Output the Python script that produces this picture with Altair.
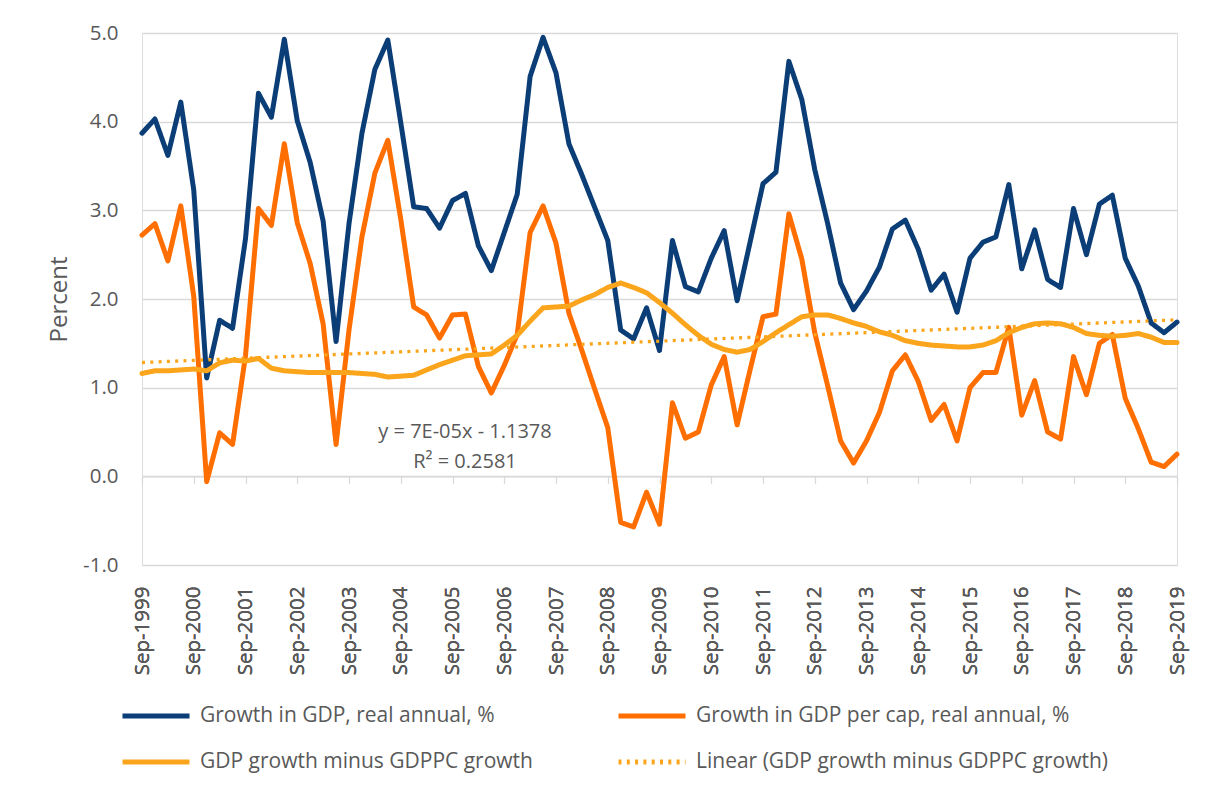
import json
import altair as alt
import pandas as pd

# ---- data (quarterly, Sep-1999 .. Sep-2019) ----
gdp = [3.87, 4.03, 3.62, 4.22, 3.23, 1.11, 1.76, 1.67, 2.68, 4.32,
       4.05, 4.93, 4.01, 3.54, 2.88, 1.52, 2.85, 3.87, 4.59, 4.92,
       3.99, 3.04, 3.02, 2.80, 3.11, 3.19, 2.60, 2.32, 2.75, 3.18,
       4.51, 4.95, 4.55, 3.75, 3.40, 3.03, 2.66, 1.65, 1.55, 1.90,
       1.42, 2.66, 2.14, 2.08, 2.46, 2.77, 1.98, 2.64, 3.30, 3.43,
       4.68, 4.25, 3.46, 2.85, 2.18, 1.88, 2.09, 2.36, 2.79, 2.89,
       2.56, 2.10, 2.28, 1.85, 2.46, 2.64, 2.70, 3.29, 2.34, 2.78,
       2.22, 2.13, 3.02, 2.50, 3.07, 3.17, 2.46, 2.15, 1.73, 1.62,
       1.74]
gdppc = [2.72, 2.85, 2.43, 3.05, 2.03, -0.06, 0.49, 0.36, 1.36, 3.02,
         2.83, 3.75, 2.86, 2.40, 1.72, 0.36, 1.65, 2.70, 3.42, 3.79,
         2.90, 1.91, 1.82, 1.56, 1.82, 1.83, 1.24, 0.94, 1.25, 1.60,
         2.75, 3.05, 2.63, 1.84, 1.42, 0.98, 0.55, -0.52, -0.57, -0.18,
         -0.54, 0.83, 0.43, 0.50, 1.03, 1.35, 0.58, 1.20, 1.80, 1.83,
         2.96, 2.45, 1.62, 1.02, 0.40, 0.15, 0.40, 0.72, 1.19, 1.37,
         1.07, 0.63, 0.81, 0.40, 1.00, 1.17, 1.17, 1.68, 0.69, 1.08,
         0.50, 0.42, 1.35, 0.92, 1.50, 1.60, 0.88, 0.54, 0.16, 0.11,
         0.25]
diff = [1.16, 1.19, 1.19, 1.20, 1.21, 1.19, 1.28, 1.31, 1.30, 1.33,
        1.22, 1.19, 1.18, 1.17, 1.17, 1.17, 1.17, 1.16, 1.15, 1.12,
        1.13, 1.14, 1.20, 1.26, 1.31, 1.36, 1.37, 1.38, 1.48, 1.59,
        1.75, 1.90, 1.91, 1.92, 1.99, 2.05, 2.13, 2.18, 2.13, 2.07,
        1.96, 1.84, 1.71, 1.59, 1.49, 1.43, 1.40, 1.43, 1.52, 1.62,
        1.71, 1.80, 1.82, 1.82, 1.78, 1.73, 1.69, 1.63, 1.59, 1.53,
        1.50, 1.48, 1.47, 1.46, 1.46, 1.48, 1.53, 1.62, 1.68, 1.72,
        1.73, 1.72, 1.68, 1.61, 1.59, 1.58, 1.59, 1.61, 1.57, 1.51,
        1.51]
tick_labels = ["Sep-1999", "Sep-2000", "Sep-2001", "Sep-2002", "Sep-2003",
               "Sep-2004", "Sep-2005", "Sep-2006", "Sep-2007", "Sep-2008",
               "Sep-2009", "Sep-2010", "Sep-2011", "Sep-2012", "Sep-2013",
               "Sep-2014", "Sep-2015", "Sep-2016", "Sep-2017", "Sep-2018",
               "Sep-2019"]
series_names = ["Growth in GDP, real annual, %",
                "Growth in GDP per cap, real annual, %",
                "GDP growth minus GDPPC growth",
                "Linear (GDP growth minus GDPPC growth)"]
colors = ["#0b3d76", "#ff6e00", "#fba51c", "#fba51c"]
dashes = [[1, 0], [1, 0], [1, 0], [3, 5.3]]
equation_lines = ["y = 7E-05x - 1.1378", "R² = 0.2581"]

rows = []
for i in range(len(gdp)):
    rows.append({"q": i, "series": series_names[0], "value": gdp[i]})
    rows.append({"q": i, "series": series_names[1], "value": gdppc[i]})
    rows.append({"q": i, "series": series_names[2], "value": diff[i]})
df = pd.DataFrame(rows)

FONT = "Open Sans"
TXT = "#595959"
GRID = "#d9d9d9"
tick_vals = [4 * k for k in range(len(tick_labels))]
label_expr = json.dumps(tick_labels) + "[round(datum.value/4)]"

legend = alt.Legend(
    title=None, orient="none", legendX=-22, legendY=647, columns=2,
    direction="horizontal",
    symbolType="stroke", symbolSize=4489, symbolStrokeWidth=5,
    labelFont=FONT, labelFontSize=21, labelColor=TXT, labelLimit=700,
    labelOffset=8, columnPadding=75, rowPadding=-6, padding=0,
)
color_enc = alt.Color("series:N", scale=alt.Scale(domain=series_names, range=colors), legend=legend)
dash_enc = alt.StrokeDash("series:N", scale=alt.Scale(domain=series_names, range=dashes), legend=legend)

y_enc = alt.Y(
    "value:Q",
    scale=alt.Scale(domain=[-1, 5], nice=False, zero=False),
    axis=alt.Axis(
        values=[-1, 0, 1, 2, 3, 4, 5], format=".1f", title="Percent",
        labelExpr="replace(datum.label, '\u2212', '-')",
        labelFont=FONT, labelFontSize=20.5, labelColor=TXT, labelPadding=24,
        ticks=False, tickSize=0, domain=False, grid=True, gridColor=GRID, gridWidth=1.3,
        titleFont=FONT, titleFontSize=24, titleFontWeight="normal", titleColor=TXT,
        titlePadding=11,
    ),
)
x_scale = alt.Scale(domain=[0, 80], nice=False, zero=False)
x_main = alt.X(
    "q:Q", scale=x_scale,
    axis=alt.Axis(
        orient="bottom", values=tick_vals, labelExpr=label_expr, title=None,
        labelAngle=-90, labelFont=FONT, labelFontSize=20.5, labelColor=TXT,
        labelPadding=21, ticks=False, tickSize=0, domain=False, grid=False,
    ),
)
x_zero = alt.X(
    "q:Q", scale=x_scale,
    axis=alt.Axis(
        orient="bottom", offset=-88.67, values=tick_vals, labels=False, title=None,
        domain=True, domainColor=GRID, domainWidth=1.3,
        ticks=True, tickColor=GRID, tickWidth=1.3, tickSize=7, grid=False,
    ),
)

base = alt.Chart(df)
layers = []
for name in series_names[:3]:
    layers.append(
        base.transform_filter(alt.datum.series == name)
        .mark_line(strokeWidth=5, strokeJoin="round", strokeCap="round")
        .encode(x=x_main, y=y_enc, color=color_enc, strokeDash=dash_enc)
    )

trend = (
    base.transform_filter(alt.datum.series == series_names[2])
    .transform_regression("q", "value")
    .transform_calculate(series="'" + series_names[3] + "'")
    .mark_line(strokeWidth=3.3, strokeCap="butt")
    .encode(x=x_zero, y=y_enc, color=color_enc, strokeDash=dash_enc)
)
layers.append(trend)

for k, txt in enumerate(equation_lines):
    layers.append(
        alt.Chart(pd.DataFrame({"text": [txt]}))
        .mark_text(font=FONT, fontSize=20, color=TXT, align="center", baseline="middle")
        .encode(x=alt.value(323), y=alt.value(399 + 30 * k), text="text:N")
    )

chart = (
    alt.layer(*layers)
    .resolve_axis(x="independent")
    .properties(
        width=1035, height=532,
        autosize=alt.AutoSizeParams(type="none"),
        padding={"left": 134, "top": 25, "right": 23, "bottom": 214},
    )
    .configure_view(stroke=None)
    .configure(background="white")
)
chart.save("out.html", embed_options={"renderer": "svg", "actions": False})
